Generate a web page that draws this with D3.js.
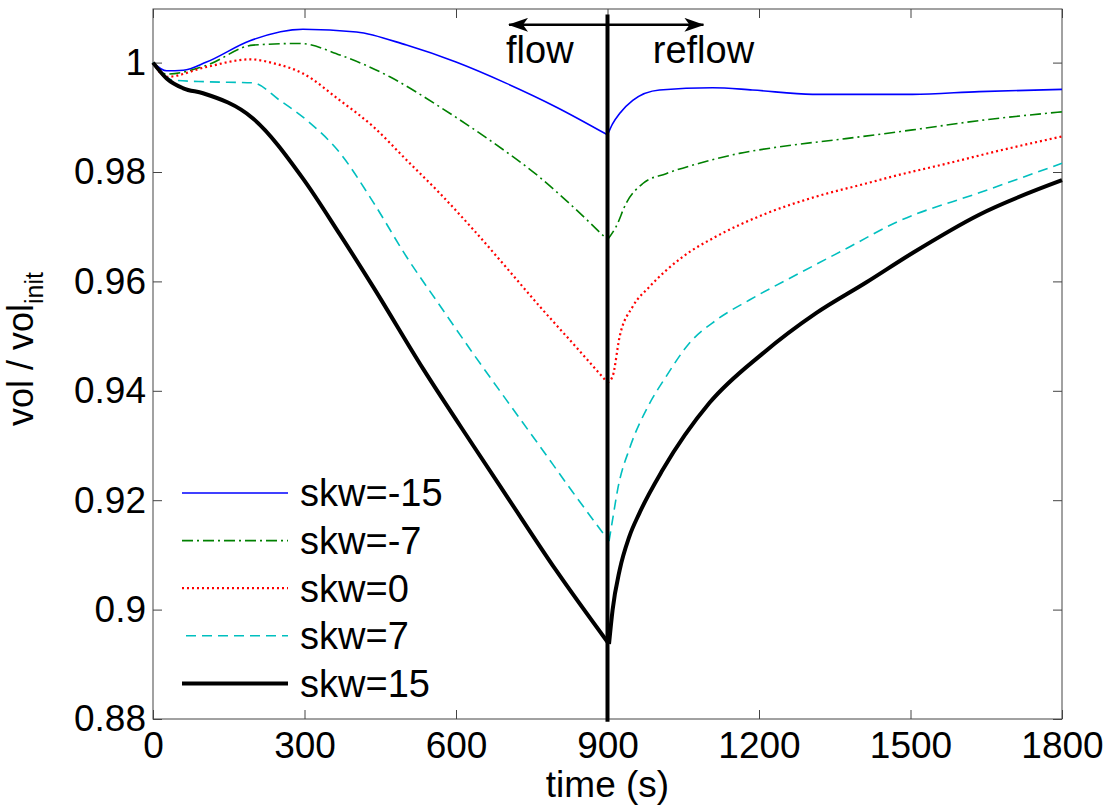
<!DOCTYPE html>
<html>
<head>
<meta charset="utf-8">
<script src="https://cdn.jsdelivr.net/npm/d3@7"></script>
<style>
body { margin: 0; background: #fff; }
text { font-family: "Liberation Sans", Arial, sans-serif; fill: #000; }
</style>
</head>
<body>
<svg id="chart" width="1110" height="808"></svg>
<script>
// values
const labels = ["skw=-15", "skw=-7", "skw=0", "skw=7", "skw=15"];

const timeM15 = [0, 27, 60, 106, 192, 297, 403, 502, 600, 700, 798, 900, 910, 924, 950, 1003, 1108, 1187, 1306, 1504, 1636, 1800];
const volM15  = [1.0, 0.9985, 0.9986, 1.0001, 1.0040, 1.0061, 1.0056, 1.0032, 1.0001, 0.9962, 0.9919, 0.9868, 0.9888, 0.9907, 0.9931, 0.9950, 0.9954, 0.9950, 0.9942, 0.9942, 0.9947, 0.9951];

const timeM7 = [0, 27, 106, 198, 291, 370, 469, 568, 667, 765, 831, 900, 917, 937, 970, 1016, 1082, 1161, 1240, 1372, 1504, 1636, 1800];
const volM7  = [1.0, 0.9979, 0.9995, 1.0032, 1.0035, 1.0014, 0.9974, 0.9919, 0.9858, 0.9791, 0.9737, 0.9676, 0.9700, 0.9743, 0.9779, 0.9797, 0.9816, 0.9834, 0.9846, 0.9861, 0.9877, 0.9894, 0.9910];

const time0 = [0, 27, 106, 192, 238, 297, 370, 436, 502, 568, 634, 700, 765, 831, 900, 910, 924, 950, 983, 1049, 1115, 1214, 1313, 1412, 1474, 1570, 1680, 1800];
const vol0  = [1.0, 0.9974, 0.9992, 1.0006, 0.9999, 0.9980, 0.9931, 0.9883, 0.9822, 0.9761, 0.9695, 0.9625, 0.9555, 0.9487, 0.9415, 0.9426, 0.9499, 0.9554, 0.9590, 0.9645, 0.9682, 0.9724, 0.9755, 0.9779, 0.9794, 0.9815, 0.9840, 0.9865];

const timeP7 = [0, 40, 106, 198, 251, 304, 370, 436, 502, 568, 634, 700, 765, 831, 903, 910, 920, 945, 980, 1016, 1062, 1115, 1181, 1280, 1379, 1474, 1636, 1800];
const volP7  = [1.0, 0.9968, 0.9965, 0.9963, 0.9931, 0.9895, 0.9835, 0.9745, 0.9645, 0.9556, 0.9468, 0.9383, 0.9300, 0.9215, 0.9125, 0.9164, 0.9219, 0.9298, 0.9371, 0.9426, 0.9487, 0.9529, 0.9566, 0.9615, 0.9663, 0.9709, 0.9762, 0.9816];

const timeP15 = [0, 27, 60, 99, 198, 297, 370, 436, 535, 634, 700, 798, 903, 910, 924, 943, 963, 1009, 1102, 1207, 1313, 1412, 1504, 1636, 1800];
const volP15  = [1.0, 0.9971, 0.9953, 0.9944, 0.9898, 0.9788, 0.9686, 0.9590, 0.9440, 0.9300, 0.9208, 0.9072, 0.8937, 0.8999, 0.9072, 0.9133, 0.9176, 0.9255, 0.9378, 0.9468, 0.9542, 0.9598, 0.9652, 0.9722, 0.9785];

const xTicks = [0, 300, 600, 900, 1200, 1500, 1800];
const yTicks = [0.88, 0.9, 0.92, 0.94, 0.96, 0.98, 1];
const yTickLabels = ["0.88", "0.9", "0.92", "0.94", "0.96", "0.98", "1"];

// flow / reflow marker
const switchTime = 900;
const markerTop = 1.0088, markerBottom = 0.8795;
const arrowVol = 1.0069;
const arrowEnds = [705, 1090];
const noteTexts = ["flow", "reflow"];
const noteTimes = [766, 1090];
const noteVol = 1.0;

const times = [timeM15, timeM7, time0, timeP7, timeP15];
const vols = [volM15, volM7, vol0, volP7, volP15];
const colors = ["#0000ff", "#008000", "#ff0000", "#00bfbf", "#000000"];
const widths = [1.6, 1.6, 2.2, 1.6, 4];
const dashes = [null, "11,4,2,4", "2,3", "10,6", null];

const svg = d3.select("#chart");
const pLeft = 153, pRight = 1062, pTop = 9, pBottom = 719;

const x = d3.scaleLinear().domain([0, 1800]).range([pLeft, pRight]);
const y = d3.scaleLinear().domain([0.88, 1.0098]).range([pBottom, pTop]);

// frame
svg.append("rect")
	.attr("x", pLeft).attr("y", pTop)
	.attr("width", pRight - pLeft).attr("height", pBottom - pTop)
	.attr("fill", "none").attr("stroke", "#444").attr("stroke-width", 1);

const fmtY = (d) => yTickLabels[yTicks.indexOf(d)];

svg.append("g")
	.attr("transform", "translate(0," + pBottom + ")")
	.call(d3.axisBottom(x).tickValues(xTicks).tickSizeInner(-9).tickSizeOuter(0).tickPadding(13).tickFormat(d3.format("d")));
svg.append("g")
	.attr("transform", "translate(" + pLeft + ",0)")
	.call(d3.axisLeft(y).tickValues(yTicks).tickSizeInner(-9).tickSizeOuter(0).tickPadding(7).tickFormat(fmtY));
svg.append("g")
	.attr("transform", "translate(0," + pTop + ")")
	.call(d3.axisTop(x).tickValues(xTicks).tickSizeInner(-9).tickSizeOuter(0).tickFormat(""));
svg.append("g")
	.attr("transform", "translate(" + pRight + ",0)")
	.call(d3.axisRight(y).tickValues(yTicks).tickSizeInner(-9).tickSizeOuter(0).tickFormat(""));

svg.selectAll(".domain").remove();
svg.selectAll(".tick line").attr("stroke", "#444");
svg.selectAll(".tick text")
	.style("font-family", "'Liberation Sans', Arial, sans-serif")
	.style("font-size", "37px")
	.attr("fill", "#000");

// axis titles
svg.append("text")
	.attr("x", (pLeft + pRight) / 2).attr("y", 797)
	.attr("text-anchor", "middle")
	.style("font-size", "37px")
	.text("time (s)");

const yl = svg.append("text")
	.attr("transform", "translate(33,349) rotate(-90)")
	.attr("text-anchor", "middle")
	.style("font-size", "36px");
yl.append("tspan").text("vol / vol");
yl.append("tspan").attr("dy", 10).style("font-size", "25px").text("init");

// curves, flow and reflow parts drawn apart so the corner at 900 s stays sharp
const line = d3.line().x(d => x(d[0])).y(d => y(d[1])).curve(d3.curveMonotoneX);
const plot = svg.append("g");
times.forEach((t, i) => {
	const pts = d3.zip(t, vols[i]);
	const flow = pts.filter(d => d[0] <= switchTime + 3);
	const reflow = pts.filter(d => d[0] >= flow[flow.length - 1][0]);
	[flow, reflow].forEach(part => {
		plot.append("path")
			.datum(part)
			.attr("d", line)
			.attr("fill", "none")
			.attr("stroke", colors[i])
			.attr("stroke-width", widths[i])
			.attr("stroke-dasharray", dashes[i])
			.attr("stroke-linejoin", "round");
	});
});

// vertical marker and arrows
svg.append("line")
	.attr("x1", x(switchTime)).attr("x2", x(switchTime))
	.attr("y1", y(markerTop)).attr("y2", y(markerBottom))
	.attr("stroke", "#000").attr("stroke-width", 4);

svg.append("defs").append("marker")
	.attr("id", "head")
	.attr("viewBox", "0 0 20 14")
	.attr("refX", 19).attr("refY", 7)
	.attr("markerWidth", 20).attr("markerHeight", 14)
	.attr("markerUnits", "userSpaceOnUse")
	.attr("orient", "auto")
	.append("path")
	.attr("d", "M0,0 L20,7 L0,14 L5,7 Z")
	.attr("fill", "#000");

arrowEnds.forEach(t => {
	svg.append("line")
		.attr("x1", x(switchTime)).attr("x2", x(t))
		.attr("y1", y(arrowVol)).attr("y2", y(arrowVol))
		.attr("stroke", "#000").attr("stroke-width", 2.5)
		.attr("marker-end", "url(#head)");
});

noteTexts.forEach((s, i) => {
	svg.append("text")
		.attr("x", x(noteTimes[i])).attr("y", y(noteVol))
		.attr("text-anchor", "middle")
		.style("font-size", "38px")
		.text(s);
});

// legend
const legend = svg.append("g");
labels.forEach((s, i) => {
	const ly = 493 + i * 47.6;
	legend.append("line")
		.attr("x1", i == 3 ? 186 : 182).attr("x2", 288)
		.attr("y1", ly).attr("y2", ly)
		.attr("stroke", colors[i])
		.attr("stroke-width", widths[i])
		.attr("stroke-dasharray", dashes[i]);
	legend.append("text")
		.attr("x", 300).attr("y", ly)
		.attr("dy", "0.35em")
		.style("font-size", "38px")
		.text(s);
});
</script>
</body>
</html>
